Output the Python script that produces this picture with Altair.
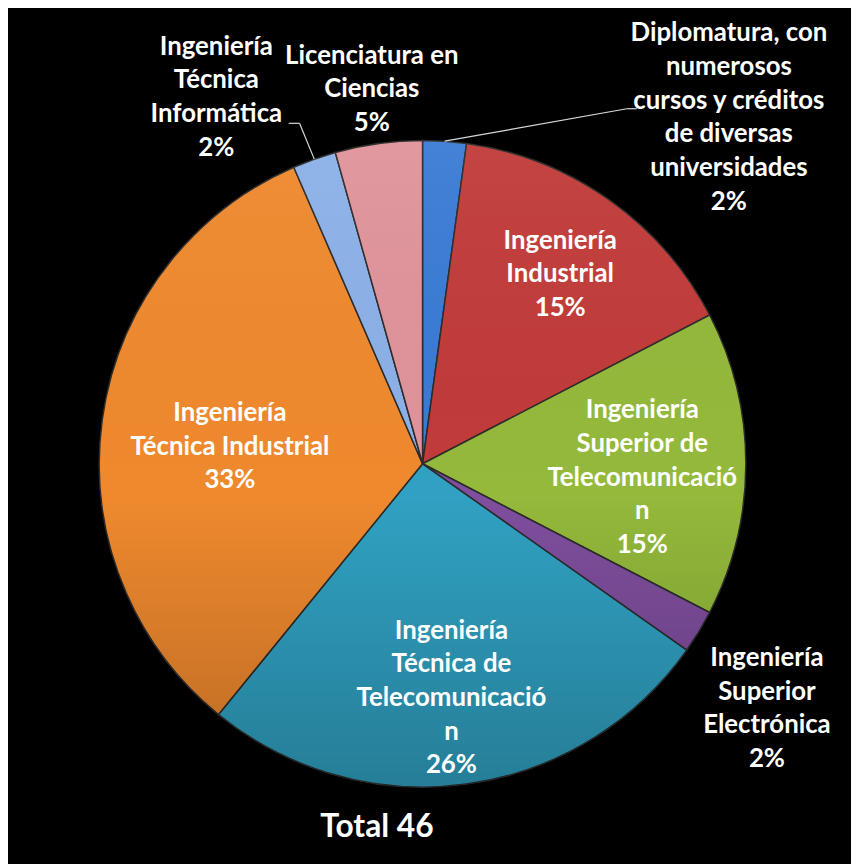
import altair as alt
import pandas as pd

# ---------------- data ----------------
categories = [
    "Diplomatura, con numerosos cursos y créditos de diversas universidades",
    "Ingeniería Industrial",
    "Ingeniería Superior de Telecomunicación",
    "Ingeniería Superior Electrónica",
    "Ingeniería Técnica de Telecomunicación",
    "Ingeniería Técnica Industrial",
    "Ingeniería Técnica Informática",
    "Licenciatura en Ciencias",
]
counts = [1, 7, 7, 1, 12, 15, 1, 2]
pct_labels = ["2%", "15%", "15%", "2%", "26%", "33%", "2%", "5%"]
label_lines = [
    ["Diplomatura, con", "numerosos", "cursos y créditos", "de diversas", "universidades"],
    ["Ingeniería", "Industrial"],
    ["Ingeniería", "Superior de", "Telecomunicació", "n"],
    ["Ingeniería", "Superior", "Electrónica"],
    ["Ingeniería", "Técnica de", "Telecomunicació", "n"],
    ["Ingeniería", "Técnica Industrial"],
    ["Ingeniería", "Técnica", "Informática"],
    ["Licenciatura en", "Ciencias"],
]
total_prefix = "Total"

# ---------------- styles / layout ----------------
colors = ["#3A7BD5", "#C13B39", "#94B93B", "#7F4E9E", "#30A1C2",
          "#EF892E", "#8CB1E8", "#E0939A"]
label_r = [466, 236, 222, 426, 238, 195, 424, 381]
label_nudge = [37.6, 0.8, 3.6, 4.1, 0.8, -2.8, -9.8, 0.1]
leader_r = [413, 0, 0, 0, 0, 0, 365, 0]
leader_nudge = [26.0, 0, 0, 0, 0, 0, -0.3, 0]
leader_tail = [10, 0, 0, 0, 0, 0, -11, 0]

W, H = 850, 856
CX, CY, R = 418, 456, 326
FONT = "Lato"
LINE_H = 34

rows = []
for i, c in enumerate(categories):
    lines = label_lines[i] + [pct_labels[i]]
    rows.append({
        "order": i,
        "category": c,
        "value": counts[i],
        "label": "\n".join(lines),
        "nl": len(lines),
        "lr": label_r[i],
        "ln": label_nudge[i],
        "er": leader_r[i],
        "en": leader_nudge[i],
        "tail": leader_tail[i],
    })
df = pd.DataFrame(rows)

base = alt.Chart(df)

pie = base.mark_arc(outerRadius=R, stroke="#2b2b2b", strokeWidth=1.5).encode(
    theta=alt.Theta("value:Q", stack=True),
    order=alt.Order("order:Q"),
    color=alt.Color("category:N", scale=alt.Scale(domain=categories, range=colors), legend=None),
    x=alt.value(CX),
    y=alt.value(CY),
)

shade = alt.Chart(pd.DataFrame({"k": [0]})).mark_arc(
    outerRadius=R,
    fill={
        "gradient": "linear", "x1": 0, "y1": 0, "x2": 0, "y2": 1,
        "stops": [
            {"offset": 0, "color": "rgba(255,255,255,0.05)"},
            {"offset": 0.55, "color": "rgba(0,0,0,0)"},
            {"offset": 1, "color": "rgba(0,0,0,0.22)"},
        ],
    },
).encode(
    theta=alt.value(0), theta2=alt.value(6.28319),
    x=alt.value(CX), y=alt.value(CY),
)

geo = base.transform_window(
    cum="sum(value)", sort=[alt.SortField("order")], frame=[None, 0]
).transform_joinaggregate(
    total="sum(value)"
).transform_calculate(
    mid="(datum.cum - datum.value/2) / datum.total * 2 * PI"
).transform_calculate(
    lx=f"{CX} + datum.lr * sin(datum.mid + datum.ln * PI / 180)",
    ly=f"{CY} - datum.lr * cos(datum.mid + datum.ln * PI / 180) - (datum.nl - 1) * {LINE_H} / 2",
    sx=f"{CX} + {R} * sin(datum.mid)",
    sy=f"{CY} - {R} * cos(datum.mid)",
    ex=f"{CX} + datum.er * sin(datum.mid + datum.en * PI / 180)",
    ey=f"{CY} - datum.er * cos(datum.mid + datum.en * PI / 180)",
).transform_calculate(
    tx="datum.ex + datum.tail"
)

labels = geo.mark_text(
    font=FONT, fontSize=26, fontWeight="bold", color="white",
    lineBreak="\n", lineHeight=LINE_H, align="center", baseline="middle",
).encode(
    x=alt.X("lx:Q", scale=None),
    y=alt.Y("ly:Q", scale=None),
    text="label:N",
)

leaders = geo.transform_filter("datum.er > 0")
lead1 = leaders.mark_rule(color="#d8d8d8", strokeWidth=1.2).encode(
    x=alt.X("sx:Q", scale=None), y=alt.Y("sy:Q", scale=None),
    x2="ex:Q", y2="ey:Q",
)
lead2 = leaders.mark_rule(color="#d8d8d8", strokeWidth=1.2).encode(
    x=alt.X("ex:Q", scale=None), y=alt.Y("ey:Q", scale=None),
    x2="tx:Q", y2="ey:Q",
)

total_text = base.transform_joinaggregate(
    total="sum(value)"
).transform_filter("datum.order == 0").transform_calculate(
    tt=f"'{total_prefix} ' + datum.total"
).mark_text(
    font=FONT, fontSize=32, fontWeight="bold", color="white",
    align="center", baseline="middle",
).encode(
    x=alt.value(372), y=alt.value(822), text="tt:N",
)

chart = alt.layer(pie, shade, lead1, lead2, labels, total_text).properties(
    width=W, height=H,
    autosize=alt.AutoSizeParams(type="fit", contains="padding"),
    background="black",
    padding=0,
).configure_view(stroke=None)

chart.save("out.html", embed_options={"renderer": "svg", "actions": False})
